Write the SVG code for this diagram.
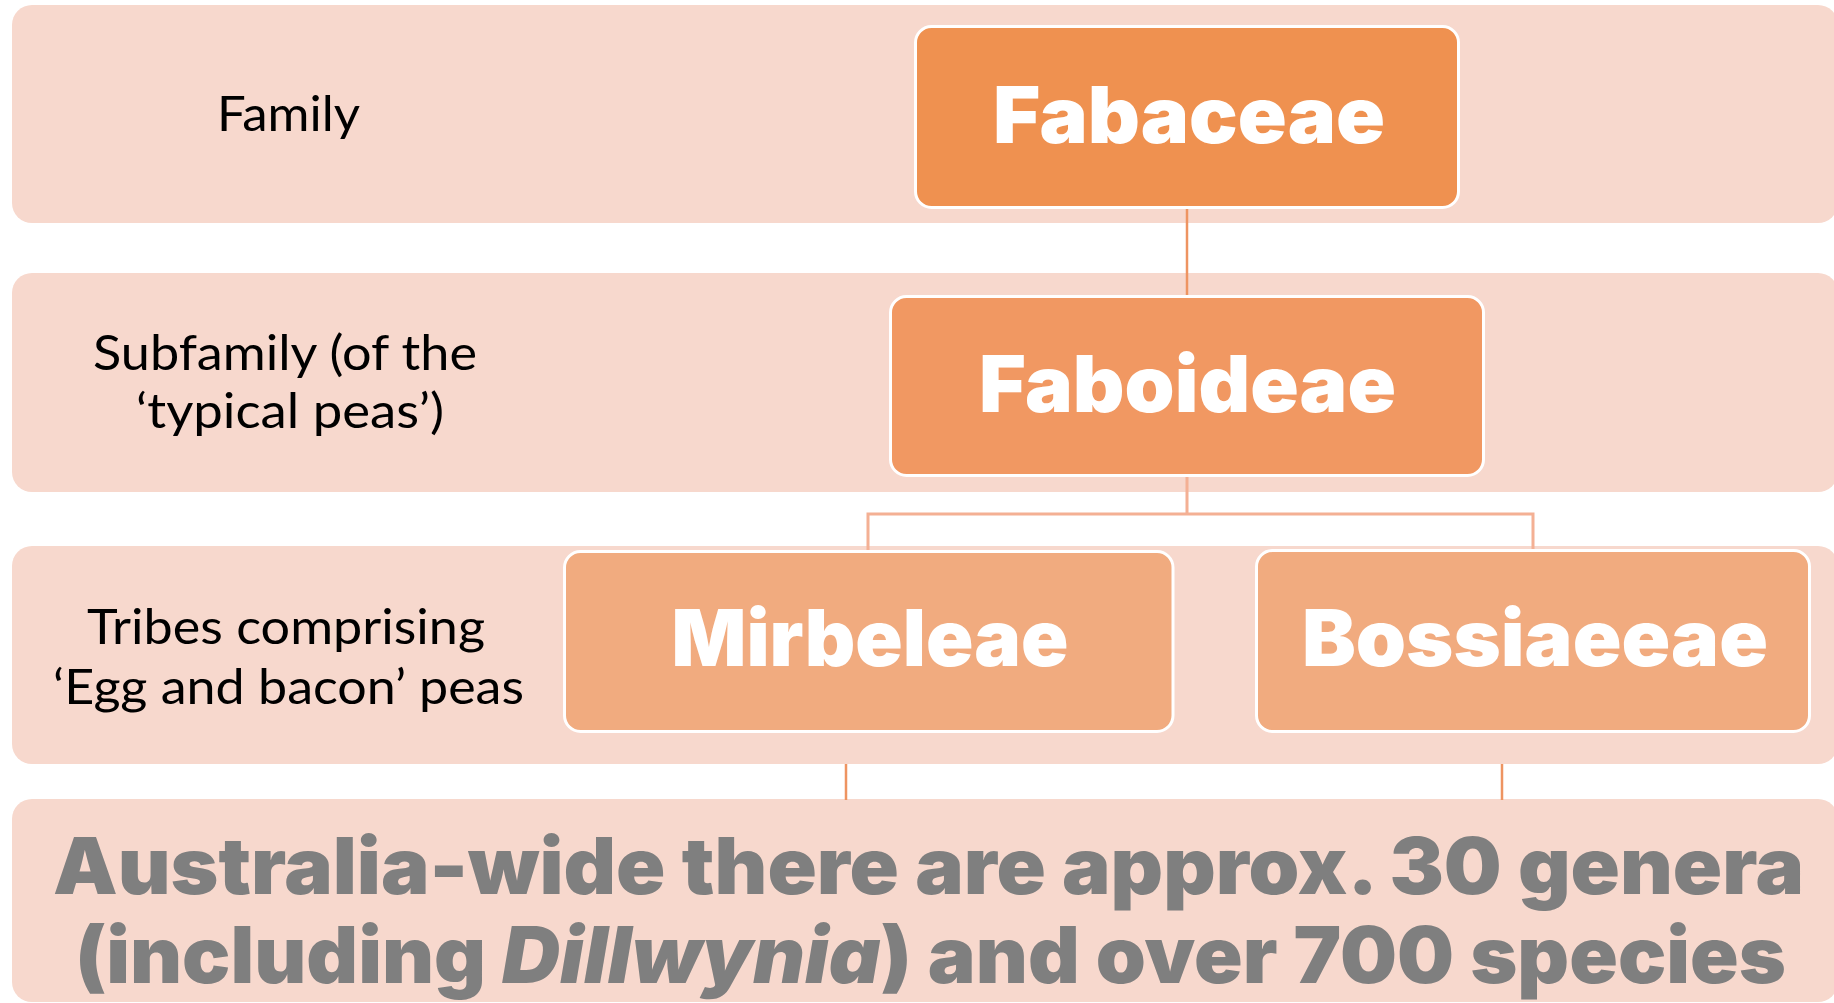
<svg xmlns="http://www.w3.org/2000/svg" width="1834" height="1003" viewBox="0 0 1834 1003">
<style>
.band{fill:#F7D8CD}
.node rect{stroke:#FFFFFF;stroke-width:3}
.n1{fill:#EF9150}
.n2{fill:#F19862}
.n3{fill:#F1AB7F}
.nt{font-family:"Arial Black","Inter","Roboto","Liberation Sans",sans-serif;font-weight:900;font-size:78px;fill:#FFFFFF;text-anchor:middle}
.lbl{font-family:"Lato","Open Sans","Liberation Sans",sans-serif;font-size:49px;fill:#000000;text-anchor:middle}
.bt{font-family:"Arial Black","Inter","Roboto","Liberation Sans",sans-serif;font-weight:900;font-size:78px;fill:#7F7F7F;text-anchor:middle}
.c1{stroke:#EE9461;stroke-width:2.5;fill:none}
.c2{stroke:#F4B094;stroke-width:3;fill:none}
</style>
<rect x="0" y="0" width="1834" height="1003" fill="#FFFFFF"/>
<g id="rows">
  <g id="row-family">
    <rect class="band" x="12" y="5" width="1826" height="218" rx="20"/>
    <text class="lbl" x="288.5" y="131" textLength="143" lengthAdjust="spacingAndGlyphs">Family</text>
  </g>
  <g id="row-subfamily">
    <rect class="band" x="12" y="273" width="1826" height="219" rx="20"/>
    <text class="lbl" x="285" y="370" textLength="384" lengthAdjust="spacingAndGlyphs">Subfamily (of the</text>
    <text class="lbl" x="290" y="428" textLength="308" lengthAdjust="spacingAndGlyphs">‘typical peas’)</text>
  </g>
  <g id="row-tribes">
    <rect class="band" x="12" y="546" width="1826" height="218" rx="20"/>
    <text class="lbl" x="286" y="644" textLength="398" lengthAdjust="spacingAndGlyphs">Tribes comprising</text>
    <text class="lbl" x="288.5" y="704" textLength="471" lengthAdjust="spacingAndGlyphs">‘Egg and bacon’ peas</text>
  </g>
  <g id="row-summary">
    <rect class="band" x="12" y="799" width="1826" height="203" rx="20"/>
    <text class="bt" x="928.5" y="894" textLength="1751" lengthAdjust="spacingAndGlyphs">Australia-wide there are approx. 30 genera</text>
    <text class="bt" x="930.5" y="983" textLength="1711" lengthAdjust="spacingAndGlyphs">(including <tspan font-style="italic">Dillwynia</tspan>) and over 700 species</text>
  </g>
</g>
<g id="connectors">
  <path class="c1" d="M1187 208 V296"/>
  <path class="c2" d="M1187 477 V514 M868 514 H1533 M868 512.5 V551 M1533 512.5 V551"/>
  <path class="c1" d="M846 764 V800 M1502 764 V800"/>
</g>
<g id="node-fabaceae" class="node">
  <rect class="n1" x="915.5" y="26.5" width="543" height="181" rx="16"/>
  <text class="nt" x="1189" y="143" textLength="392" lengthAdjust="spacingAndGlyphs">Fabaceae</text>
</g>
<g id="node-faboideae" class="node">
  <rect class="n2" x="890.5" y="296.5" width="593" height="179" rx="16"/>
  <text class="nt" x="1187.5" y="412" textLength="417" lengthAdjust="spacingAndGlyphs">Faboideae</text>
</g>
<g id="node-mirbeleae" class="node">
  <rect class="n3" x="564.5" y="551.5" width="608.5" height="180" rx="16"/>
  <text class="nt" x="870" y="666" textLength="397" lengthAdjust="spacingAndGlyphs">Mirbeleae</text>
</g>
<g id="node-bossiaeeae" class="node">
  <rect class="n3" x="1256.5" y="550.5" width="553" height="181" rx="16"/>
  <text class="nt" x="1535" y="666" textLength="466" lengthAdjust="spacingAndGlyphs">Bossiaeeae</text>
</g>
</svg>
